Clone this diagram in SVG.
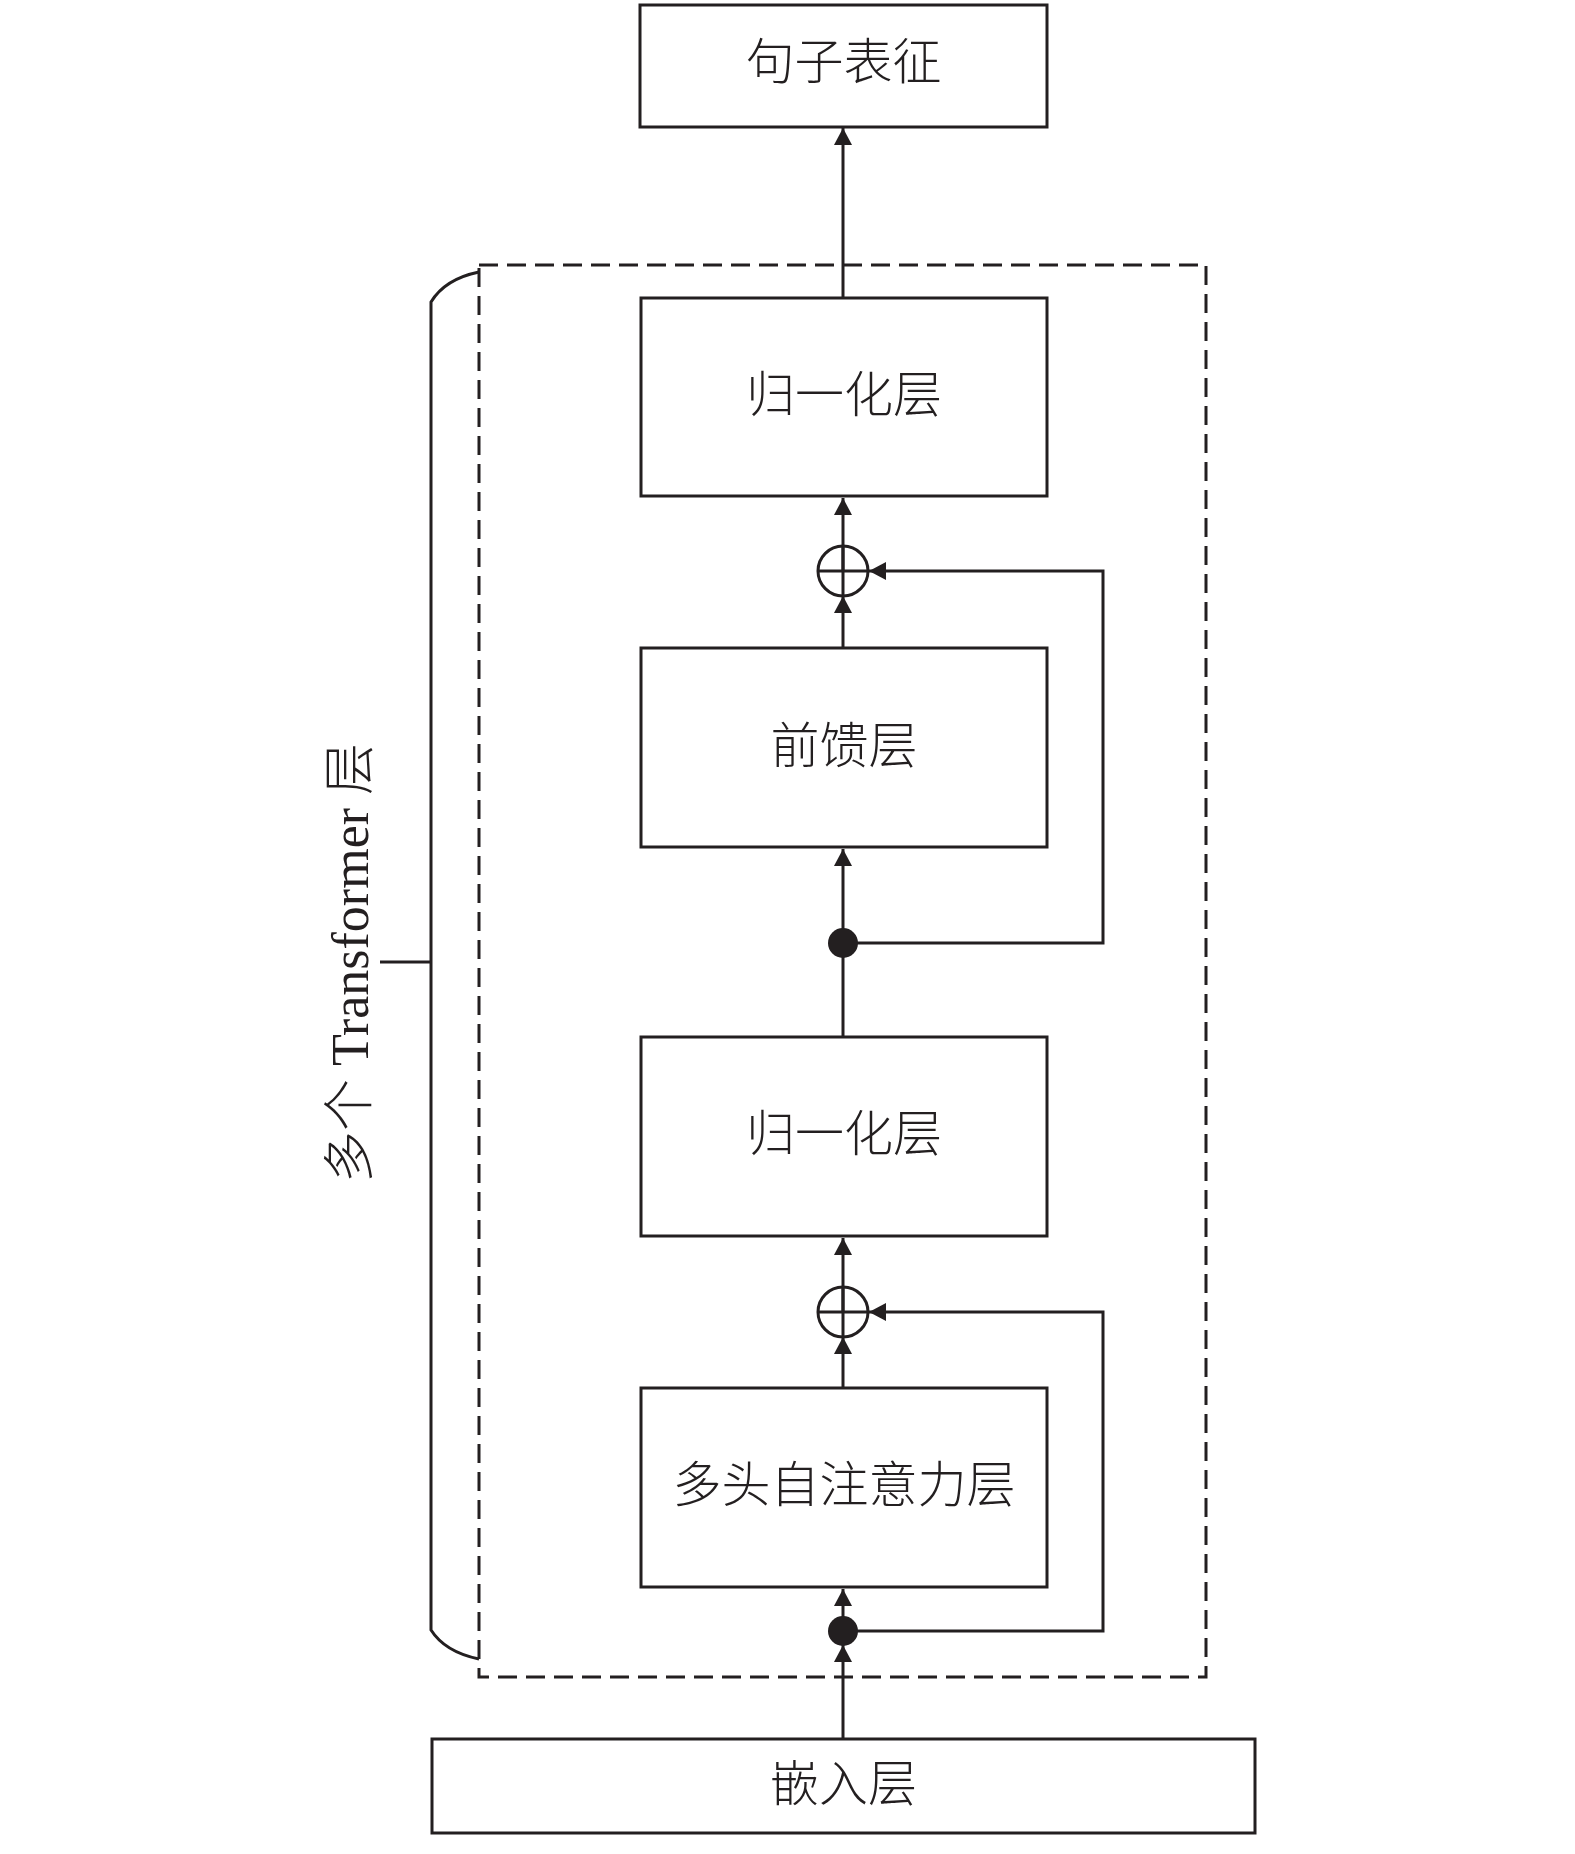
<svg xmlns="http://www.w3.org/2000/svg" width="1575" height="1854" viewBox="0 0 1575 1854">
<style>
.box{fill:#fff;stroke:#231f20;stroke-width:3}
.ln{fill:none;stroke:#231f20;stroke-width:3}
.dash{fill:none;stroke:#231f20;stroke-width:3;stroke-dasharray:19 9}
.t{font-family:"Liberation Serif","Noto Sans CJK SC",serif;font-size:49px;font-weight:300;fill:#231f20;text-anchor:middle;dominant-baseline:central}
.lab{font-family:"Liberation Serif","Noto Sans CJK SC",serif;font-size:52px;font-weight:300;fill:#231f20;text-anchor:middle}
</style>
<defs>
<marker id="ah" markerUnits="userSpaceOnUse" markerWidth="18" markerHeight="19" refX="17" refY="9" orient="auto">
<path d="M0,0 L17,9 L0,18 z" fill="#231f20"/>
</marker>
</defs>
<rect id="bg" x="0" y="0" width="1575" height="1854" fill="#fff"/>
<g id="container">
<rect class="dash" x="479" y="265" width="727" height="1412"/>
<path class="ln" d="M479,272 Q445,279 431,302 L431,1630 Q445,1652 479,1659"/>
<path class="ln" d="M380,962 L431,962"/>
<text class="lab" transform="translate(368,963) rotate(-90)">多个 Transformer 层</text>
</g>
<g id="connectors">
<path class="ln" d="M843,1739 L843,1645" marker-end="url(#ah)"/>
<path class="ln" d="M843,1631 L843,1589" marker-end="url(#ah)"/>
<path class="ln" d="M843,1388 L843,1337" marker-end="url(#ah)"/>
<path class="ln" d="M843,1312 L843,1238" marker-end="url(#ah)"/>
<path class="ln" d="M843,1037 L843,943 L843,849" marker-end="url(#ah)"/>
<path class="ln" d="M843,648 L843,596" marker-end="url(#ah)"/>
<path class="ln" d="M843,571 L843,498" marker-end="url(#ah)"/>
<path class="ln" d="M843,298 L843,128" marker-end="url(#ah)"/>
<path class="ln" d="M843,1631 L1103,1631 L1103,1312 L869,1312" marker-end="url(#ah)"/>
<path class="ln" d="M843,943 L1103,943 L1103,571 L869,571" marker-end="url(#ah)"/>
</g>
<g id="plus1"><circle class="ln" cx="843" cy="571" r="25"/><path class="ln" d="M818,571 L868,571 M843,546 L843,596"/></g>
<g id="plus2"><circle class="ln" cx="843" cy="1312" r="25"/><path class="ln" d="M818,1312 L868,1312 M843,1287 L843,1337"/></g>
<g id="dot1"><circle cx="843" cy="943" r="15" fill="#231f20"/></g>
<g id="dot2"><circle cx="843" cy="1631" r="15" fill="#231f20"/></g>
<g id="sentence"><rect class="box" x="640" y="5" width="407" height="122"/><text class="t" x="843.5" y="62">句子表征</text></g>
<g id="norm1"><rect class="box" x="641" y="298" width="406" height="198"/><text class="t" x="844" y="395">归一化层</text></g>
<g id="ffn"><rect class="box" x="641" y="648" width="406" height="199"/><text class="t" x="844" y="746">前馈层</text></g>
<g id="norm2"><rect class="box" x="641" y="1037" width="406" height="199"/><text class="t" x="844" y="1134">归一化层</text></g>
<g id="attn"><rect class="box" x="641" y="1388" width="406" height="199"/><text class="t" x="844" y="1485">多头自注意力层</text></g>
<g id="embed"><rect class="box" x="432" y="1739" width="823" height="94"/><text class="t" x="843.5" y="1784">嵌入层</text></g>
</svg>
